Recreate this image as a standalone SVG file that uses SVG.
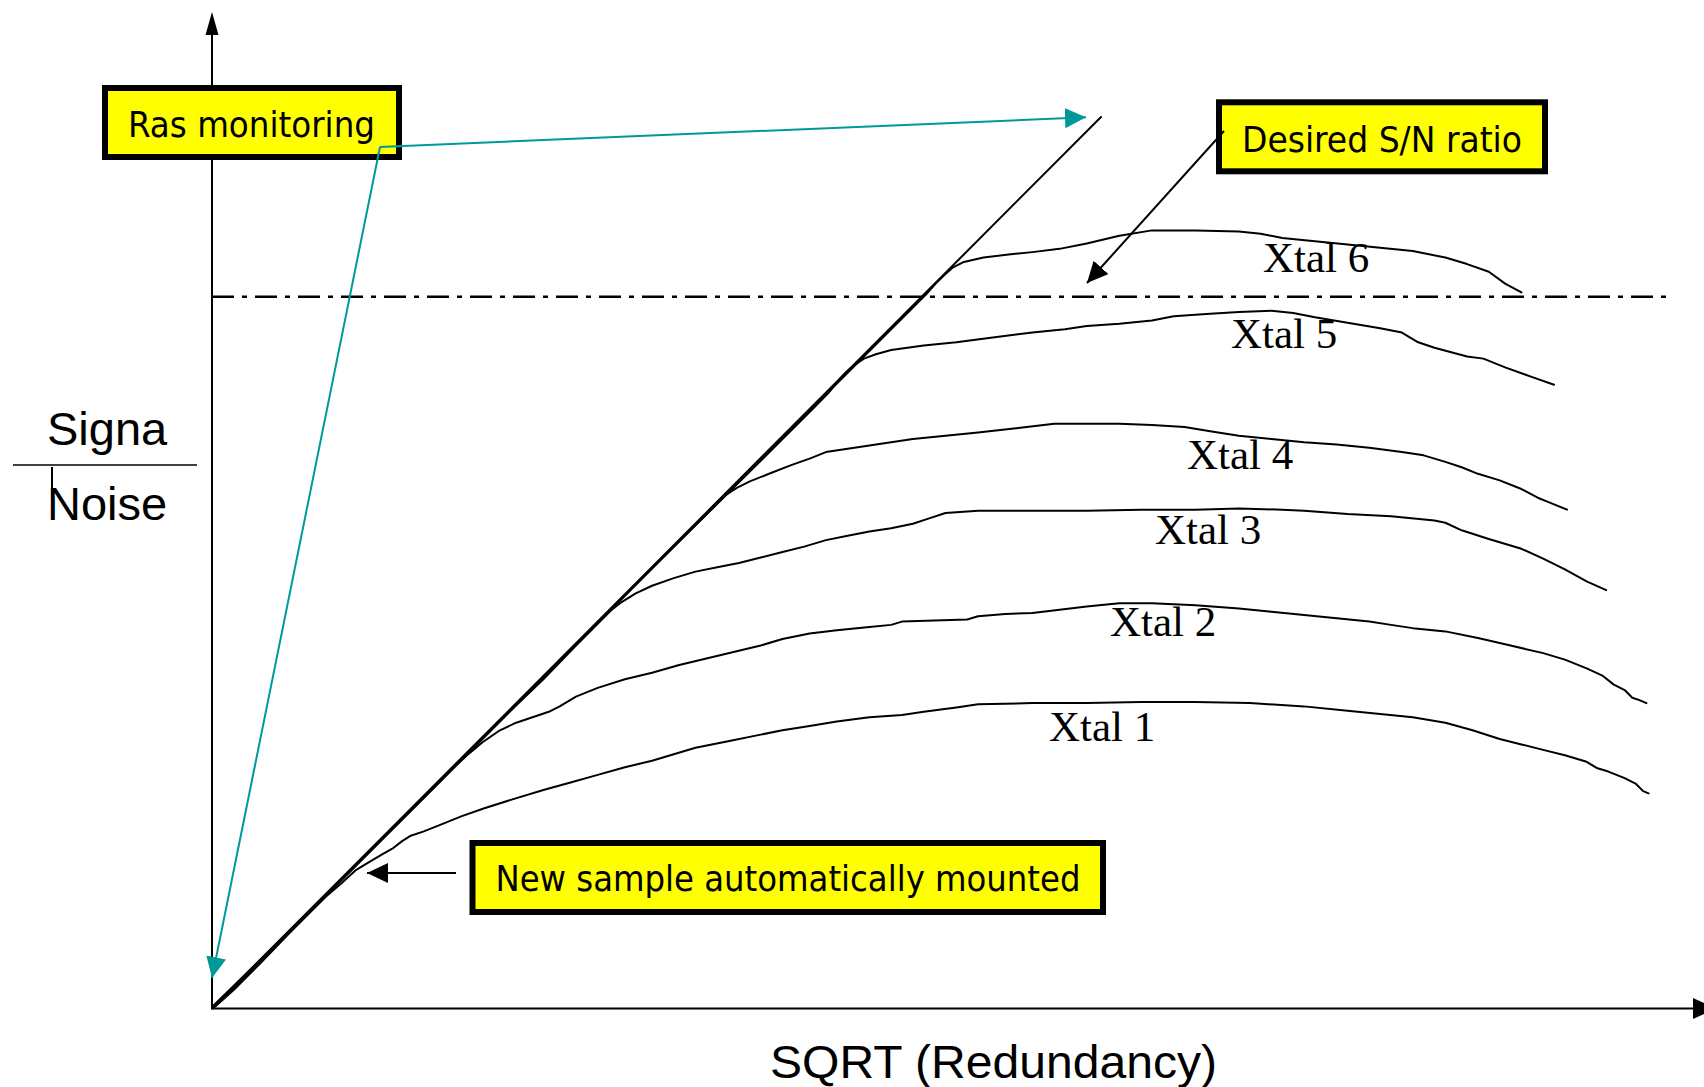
<svg xmlns="http://www.w3.org/2000/svg" width="1704" height="1087" viewBox="0 0 1704 1087">
<defs>
<style>
.axis{stroke:#000;stroke-width:2;fill:none}
.curve{stroke:#000;stroke-width:2;fill:none;stroke-linejoin:round;stroke-linecap:round}
.box{fill:#ffff00;stroke:#000;stroke-width:6}
.boxtext{font-family:"DejaVu Sans Condensed","DejaVu Sans",sans-serif;font-stretch:condensed;font-size:36px;fill:#000}
.xtal{font-family:"Liberation Serif","Times New Roman",serif;font-size:43px;fill:#000}
.axlabel{font-family:"Liberation Sans",Arial,sans-serif;fill:#000}
.teal{stroke:#009999;stroke-width:2;fill:none}
</style>
<marker id="tealHead" markerUnits="userSpaceOnUse" markerWidth="22" markerHeight="22" refX="21" refY="10" orient="auto">
<path d="M0,0 L21,10 L0,20 Z" fill="#009999"/>
</marker>
<marker id="blackHead" markerUnits="userSpaceOnUse" markerWidth="22" markerHeight="22" refX="21" refY="10" orient="auto">
<path d="M0,0 L21,10 L0,20 Z" fill="#000"/>
</marker>
</defs>
<rect width="1704" height="1087" fill="#fff"/>

<g id="axes">
<line class="axis" x1="212" y1="30" x2="212" y2="1009"/>
<path d="M212,12 L218.5,35 L205.5,35 Z" fill="#000"/>
<line class="axis" x1="211" y1="1008.5" x2="1695" y2="1008.5"/>
<path d="M1693,998 L1716,1008.5 L1693,1019 Z" fill="#000"/>
<text class="axlabel" x="770" y="1078" font-size="47" textLength="447" lengthAdjust="spacingAndGlyphs">SQRT (Redundancy)</text>
<text class="axlabel" x="47" y="445" font-size="47">Signa</text>
<line x1="13" y1="465" x2="197" y2="465" stroke="#000" stroke-width="1.5"/>
<text class="axlabel" x="47" y="520" font-size="47">Noise</text>
<line x1="52" y1="467" x2="52" y2="500" stroke="#000" stroke-width="2"/>
</g>

<g id="desired-line">
<line x1="212" y1="296.7" x2="1666" y2="296.7" stroke="#000" stroke-width="2.5" stroke-dasharray="22 8 5 8"/>
</g>

<g id="ideal">
<line class="curve" x1="212" y1="1008" x2="1101" y2="117"/>
</g>

<g id="curves" transform="scale(1.086735)">
<polyline id="xtal1" class="curve" vector-effect="non-scaling-stroke" points="196,928 215,911 240,886 265,860 285,840 300,825 315,812 327,801 340,793 352,786 361,781 370,774 378,769 390,765 405,759 425,751 445,744 470,736 500,727 525,720 550,713 575,706 600,700 620,694 640,688 670,682 700,676 720,672 745,668 770,664 800,660 830,658 850,655 880,651 900,648 950,647 1000,647 1050,646 1100,646 1150,647 1200,650 1240,654 1270,657 1300,660 1330,665 1355,672 1380,680 1400,685 1420,690 1440,695 1460,701 1470,707 1480,710 1495,716 1505,721 1512,728 1517,730"/>
<polyline id="xtal2" class="curve" vector-effect="non-scaling-stroke" points="196,926 260,864 320,804 380,744 420,704 432,693 444,683 460,672 475,665 490,660 505,655 515,650 530,641 550,633 575,625 600,619 625,612 650,606 675,600 700,594 720,588 745,583 770,580 800,577 820,575 830,572 860,571 890,570 900,567 925,565 950,564 975,561 1000,558 1030,555 1060,555 1100,557 1140,560 1170,563 1200,566 1230,569 1260,572 1280,575 1300,578 1330,581 1360,587 1390,594 1420,601 1440,607 1460,615 1475,622 1485,630 1495,635 1502,642 1508,644 1515,647"/>
<polyline id="xtal3" class="curve" vector-effect="non-scaling-stroke" points="200,924 300,824 400,724 450,673 500,625 530,594 555,569 563,561 572,554 585,546 600,539 620,532 640,526 660,522 680,518 700,513 720,508 740,503 760,497 780,493 800,489 820,486 840,482 855,477 870,472 900,470 950,470 1000,470 1050,469 1100,469 1140,468 1180,469 1200,470 1240,473 1280,475 1320,479 1330,481 1345,488 1370,496 1400,505 1420,514 1440,524 1460,535 1478,543"/>
<polyline id="xtal4" class="curve" vector-effect="non-scaling-stroke" points="196,927 300,823 400,724 500,623 600,523 640,483 650,473 658,464 667,456 678,449 690,443 710,435 728,428 745,422 760,416 780,413 800,410 820,407 840,404 870,401 900,398 935,394 970,390 1000,390 1030,390 1060,391 1090,393 1115,397 1140,401 1170,404 1200,407 1230,409 1260,412 1290,416 1310,419 1330,425 1345,430 1360,436 1380,442 1400,450 1415,458 1425,462 1442,469"/>
<polyline id="xtal5" class="curve" vector-effect="non-scaling-stroke" points="196,926 250,873 450,674 600,523 700,424 750,374 762,362 770,352 778,343 786,336 795,330 806,326 820,322 850,318 880,315 910,311 950,306 980,303 1000,300 1030,298 1060,295 1080,291 1110,289 1140,287 1170,286 1190,288 1210,292 1240,297 1270,302 1290,306 1305,315 1320,320 1350,328 1365,330 1385,338 1410,347 1430,354"/>
<polyline id="xtal6" class="curve" vector-effect="non-scaling-stroke" points="196,927 400,723 600,523 800,323 852,271 861,261 869,253 877,246 887,241 905,237 930,234 950,232 975,229 1000,224 1030,217 1060,212 1100,212 1140,213 1160,215 1180,219 1210,222 1240,225 1270,228 1300,231 1330,237 1350,243 1370,250 1385,261 1400,269"/>
</g>

<g id="xtal-labels">
<text class="xtal" x="1263" y="272">Xtal 6</text>
<text class="xtal" x="1231" y="348">Xtal 5</text>
<text class="xtal" x="1187" y="469">Xtal 4</text>
<text class="xtal" x="1155" y="544">Xtal 3</text>
<text class="xtal" x="1110" y="636">Xtal 2</text>
<text class="xtal" x="1049" y="741">Xtal 1</text>
</g>

<g id="ras-monitoring">
<rect class="box" x="105" y="88" width="294" height="69"/>
<text class="boxtext" x="128" y="137" textLength="247" lengthAdjust="spacingAndGlyphs">Ras monitoring</text>
</g>

<g id="desired-sn">
<rect class="box" x="1219" y="102.3" width="326" height="69"/>
<text class="boxtext" x="1242" y="151.7" textLength="280" lengthAdjust="spacingAndGlyphs">Desired S/N ratio</text>
</g>

<g id="new-sample">
<rect class="box" x="472.5" y="843" width="630.5" height="69"/>
<text class="boxtext" x="495.5" y="891" textLength="585" lengthAdjust="spacingAndGlyphs">New sample automatically mounted</text>
</g>

<g id="connectors">
<line class="teal" x1="380" y1="147" x2="1086" y2="117.3" marker-end="url(#tealHead)"/>
<line class="teal" x1="380" y1="147" x2="212" y2="978" marker-end="url(#tealHead)"/>
<line x1="1224" y1="131" x2="1087" y2="283" stroke="#000" stroke-width="2" marker-end="url(#blackHead)"/>
<line x1="456" y1="873" x2="367" y2="873" stroke="#000" stroke-width="2" marker-end="url(#blackHead)"/>
</g>
</svg>
